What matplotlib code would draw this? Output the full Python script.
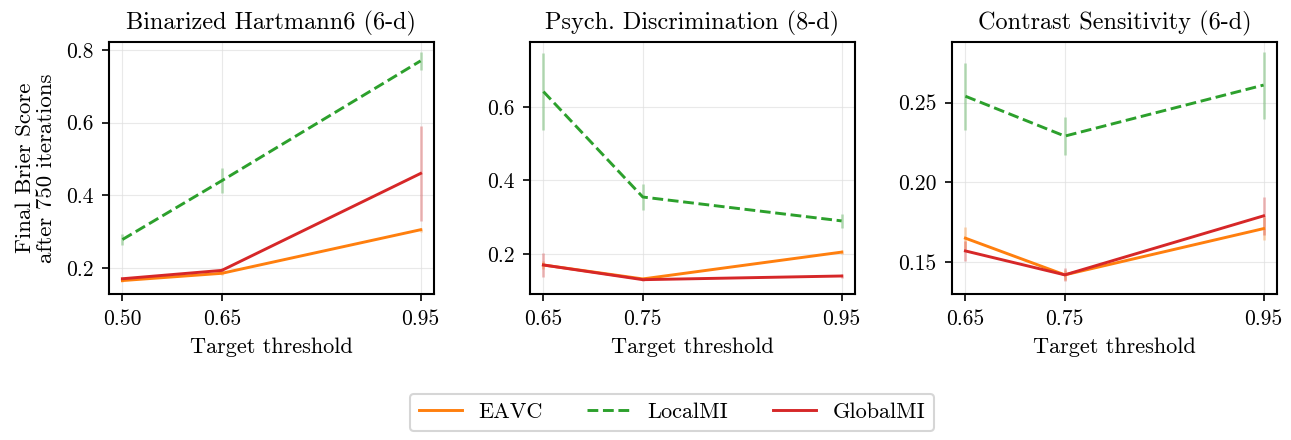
import matplotlib
matplotlib.use("Agg")
import matplotlib.pyplot as plt

plt.rcParams['font.family'] = ['cmr10', 'DejaVu Serif']
plt.rcParams['mathtext.fontset'] = 'cm'
plt.rcParams['axes.formatter.use_mathtext'] = True

titles = ["Binarized Hartmann6 (6-d)", "Psych. Discrimination (8-d)", "Contrast Sensitivity (6-d)"]
thresholds = [[0.50, 0.65, 0.95], [0.65, 0.75, 0.95], [0.65, 0.75, 0.95]]
tick_labels = [["0.50", "0.65", "0.95"], ["0.65", "0.75", "0.95"], ["0.65", "0.75", "0.95"]]

eavc = [[0.165, 0.185, 0.305], [0.170, 0.132, 0.205], [0.165, 0.142, 0.171]]
eavc_err = [[0.004, 0.005, 0.006], [0.010, 0.004, 0.006], [0.007, 0.003, 0.007]]
localmi = [[0.278, 0.440, 0.770], [0.642, 0.355, 0.290], [0.254, 0.229, 0.261]]
localmi_err = [[0.015, 0.035, 0.025], [0.105, 0.035, 0.020], [0.021, 0.012, 0.021]]
globalmi = [[0.170, 0.193, 0.460], [0.170, 0.130, 0.140], [0.157, 0.142, 0.179]]
globalmi_err = [[0.005, 0.006, 0.130], [0.032, 0.004, 0.005], [0.006, 0.004, 0.012]]

yticks = [[0.2, 0.4, 0.6, 0.8], [0.2, 0.4, 0.6], [0.15, 0.20, 0.25]]
ytick_labels = [["0.2", "0.4", "0.6", "0.8"], ["0.2", "0.4", "0.6"], ["0.15", "0.20", "0.25"]]
ylims = [(0.128, 0.822), (0.091, 0.777), (0.130, 0.288)]

series = [("EAVC", eavc, eavc_err, "#ff7f0e", "-"),
          ("LocalMI", localmi, localmi_err, "#2ca02c", "--"),
          ("GlobalMI", globalmi, globalmi_err, "#d62728", "-")]

fig = plt.figure(figsize=(12.91, 4.40), dpi=100)
lefts = [109, 530, 952]
W, H = 1291, 440
axes = []
for i in range(3):
    ax = fig.add_axes([lefts[i] / W, 1 - 294 / H, 325 / W, 252 / H])
    axes.append(ax)
    x = thresholds[i]
    for name, vals, errs, col, ls in series:
        ax.plot(x, vals[i], color=col, linestyle=ls, lw=2.1, label=name, zorder=3)
        lo = [v - e for v, e in zip(vals[i], errs[i])]
        hi = [v + e for v, e in zip(vals[i], errs[i])]
        ax.vlines(x, lo, hi, color=col, alpha=0.3, lw=2, zorder=2)
    ax.set_xticks(x)
    ax.set_xticklabels(tick_labels[i])
    ax.set_yticks(yticks[i])
    ax.set_yticklabels(ytick_labels[i])
    ax.set_ylim(*ylims[i])
    span = x[-1] - x[0]
    ax.set_xlim(x[0] - 0.045 * span, x[-1] + 0.045 * span)
    ax.grid(True, color='#e0e0e0', lw=0.8, alpha=0.7)
    ax.set_axisbelow(True)
    ax.set_title(titles[i], fontsize=17.5, pad=9)
    ax.set_xlabel("Target threshold", fontsize=16, labelpad=6)
    ax.tick_params(labelsize=15.5, length=5, width=1.2, direction='out', pad=6)
    for s in ax.spines.values():
        s.set_linewidth(1.5)

axes[0].set_ylabel("Final Brier Score\nafter 750 iterations", fontsize=16.5,
                   linespacing=1.1, labelpad=7)

handles, labels = axes[0].get_legend_handles_labels()
leg = fig.legend(handles, labels, loc='lower center', ncol=3, bbox_to_anchor=(672 / W, -0.005),
                 fontsize=16, frameon=True, fancybox=True, columnspacing=2.0,
                 handlelength=1.95, handletextpad=0.75, edgecolor='#cccccc')
leg.get_frame().set_linewidth(1.5)

fig.savefig("out.png", dpi=100)
